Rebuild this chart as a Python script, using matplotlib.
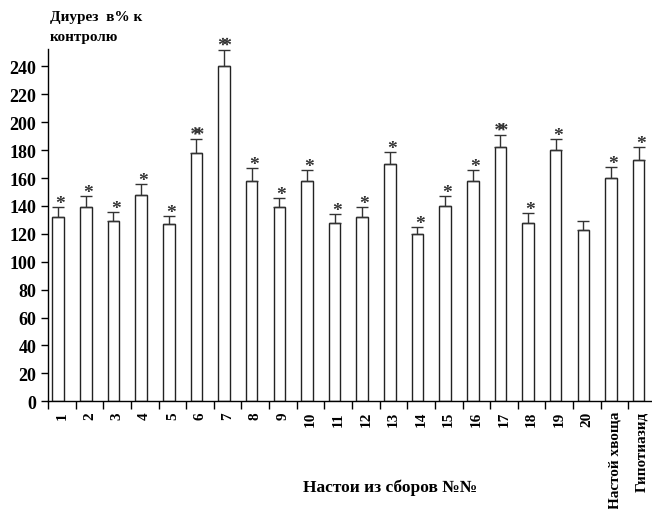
import matplotlib
matplotlib.use("Agg")
import matplotlib.pyplot as plt
import matplotlib.patheffects as pe
import numpy as np

# данные
labels = [str(i) for i in range(1, 21)] + ["Настой хвоща", "Гипотиазид"]
values = [132, 139, 129, 148, 127, 178, 240, 158, 139, 158,
          128, 132, 170, 120, 140, 158, 182, 128, 180, 123,
          160, 173]
errors = [7, 8, 7, 8, 6, 10, 12, 9, 7, 8,
          6, 7, 9, 5, 7, 8, 9, 7, 8, 6,
          8, 9]
marks = ["*", "*", "*", "*", "*", "**", "**", "*", "*", "*",
         "*", "*", "*", "*", "*", "*", "**", "*", "*", "",
         "*", "*"]

plt.rcParams['font.family'] = ['Liberation Serif', 'DejaVu Serif']
plt.rcParams['font.weight'] = 'bold'

fig = plt.figure(figsize=(6.52, 5.10), dpi=100)
ax = fig.add_axes([48 / 652, 107.7 / 510, 608 / 652, 352.3 / 510])

n = len(values)
x = np.arange(n)
pos = x - 0.13

ax.bar(pos, values, width=0.42, color='white', edgecolor='#222222',
       linewidth=1.0, zorder=2)
ax.errorbar(pos, values, yerr=[np.zeros(n), errors], fmt='none',
            ecolor='#333333', elinewidth=1.0, capsize=4, capthick=1.0,
            zorder=3)

# звёздочки достоверности; двойная — сдвинутая копия того же знака
double = [pe.SimplePatchShadow(offset=(3, 0), shadow_rgbFace='#333333',
                               alpha=1.0), pe.Normal()]
for p, v, e, m in zip(pos, values, errors, marks):
    top = v + e + 2.5
    if m == "*":
        ax.text(p + 0.08, top, "*", ha='center', va='center',
                fontsize=14, color='#333333')
    elif m == "**":
        ax.text(p - 0.04, top, "*", ha='center', va='center',
                fontsize=14, color='#333333', path_effects=double)

ax.set_xlim(-0.5, n - 0.5)
ax.set_ylim(0, 252.5)
ax.set_yticks(np.arange(0, 241, 20))
ax.tick_params(axis='y', labelsize=13, length=5, width=1)
for t in ax.get_yticklabels():
    t.set_fontweight('bold')

ax.set_xticks(np.arange(n + 1) - 0.5)
ax.set_xticklabels([])
ax.tick_params(axis='x', which='major', length=6, width=1)
ax.set_xticks(x, minor=True)
ax.set_xticklabels(labels, minor=True, rotation=90, fontsize=11,
                   fontweight='bold', va='top')
ax.tick_params(axis='x', which='minor', length=0, pad=7)

for s in ['top', 'right']:
    ax.spines[s].set_visible(False)
ax.spines['left'].set_linewidth(1)
ax.spines['bottom'].set_linewidth(1)

fig.text(50 / 652, 1 - 18 / 510, "Диурез  в% к", fontsize=11,
         fontweight='bold', va='center', ha='left')
fig.text(50 / 652, 1 - 38 / 510, "контролю", fontsize=11,
         fontweight='bold', va='center', ha='left')
fig.text(390 / 652, 1 - 488 / 510, "Настои из сборов №№", fontsize=12.5,
         fontweight='bold', va='center', ha='center')

fig.savefig('out.png', dpi=100)
